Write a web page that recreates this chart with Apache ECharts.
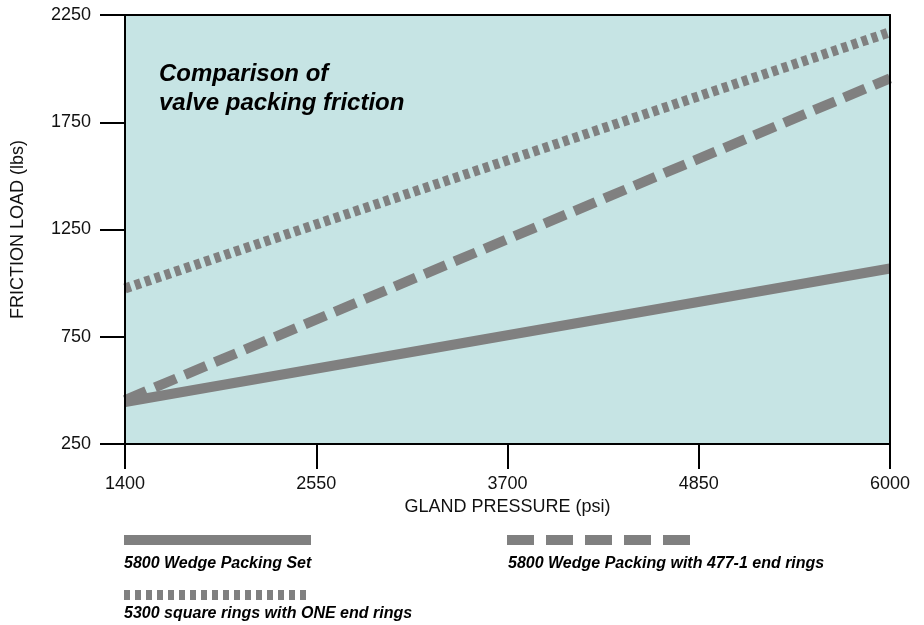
<!DOCTYPE html>
<html>
<head>
<meta charset="utf-8">
<script src="https://cdn.jsdelivr.net/npm/echarts@6/dist/echarts.min.js"></script>
<style>html,body{margin:0;padding:0;background:#fff;}#c{width:924px;height:625px;}</style>
</head>
<body>
<div id="c"></div>
<script>
// ---- data ----
const xTicks = [1400, 2550, 3700, 4850, 6000];
const yTicks = [250, 750, 1250, 1750, 2250];
const pressure = [1400, 6000];
const wedgeSet = [446, 1068];
const wedge477 = [455, 1955];
const squareRings = [975, 2170];
const seriesNames = ['5800 Wedge Packing Set', '5800 Wedge Packing with 477-1 end rings', '5300 square rings with ONE end rings'];
const titleLines = ['Comparison of', 'valve packing friction'];
const xName = 'GLAND PRESSURE (psi)';
const yName = 'FRICTION LOAD (lbs)';

const FONT = '"Liberation Sans", Arial, Helvetica, sans-serif';
const GREY = '#808080';
const pts = arr => pressure.map((p, i) => [p, arr[i]]);

const chart = echarts.init(document.getElementById('c'), null, {renderer: 'canvas'});
const axisCommon = {
  axisLine: {show: true, onZero: false, lineStyle: {color: '#000', width: 2}},
  splitLine: {show: false},
  z: 10
};
chart.setOption({
  animation: false,
  backgroundColor: '#fff',
  grid: {left: 125, right: 34, top: 15, bottom: 181, show: true, backgroundColor: '#c6e4e4', borderWidth: 0},
  xAxis: [
    Object.assign({}, axisCommon, {
      type: 'value', min: 1400, max: 6000, position: 'bottom',
      axisTick: {show: true, length: 25, lineStyle: {color: '#000', width: 2}, customValues: xTicks},
      axisLabel: {show: true, color: '#111', fontFamily: FONT, fontSize: 18, margin: 31, customValues: xTicks,
                  formatter: v => String(v)},
      name: xName, nameLocation: 'middle', nameGap: 54,
      nameTextStyle: {color: '#111', fontFamily: FONT, fontSize: 18}
    }),
    Object.assign({}, axisCommon, {
      type: 'value', min: 1400, max: 6000, position: 'top',
      axisTick: {show: false}, axisLabel: {show: false}
    })
  ],
  yAxis: [
    Object.assign({}, axisCommon, {
      type: 'value', min: 250, max: 2250, position: 'left',
      axisTick: {show: true, length: 25, lineStyle: {color: '#000', width: 2}, customValues: yTicks},
      axisLabel: {show: true, color: '#111', fontFamily: FONT, fontSize: 18, margin: 34, customValues: yTicks,
                  formatter: v => String(v)},
      name: yName, nameLocation: 'middle', nameGap: 98,
      nameTextStyle: {color: '#111', fontFamily: FONT, fontSize: 18}
    }),
    Object.assign({}, axisCommon, {
      type: 'value', min: 250, max: 2250, position: 'right',
      axisTick: {show: false}, axisLabel: {show: false}
    })
  ],
  series: [
    {name: seriesNames[0], type: 'line', data: pts(wedgeSet), showSymbol: false, symbol: 'none',
     lineStyle: {color: GREY, width: 10, cap: 'butt'}, z: 3},
    {name: seriesNames[1], type: 'line', data: pts(wedge477), showSymbol: false, symbol: 'none',
     lineStyle: {color: GREY, width: 10, cap: 'butt', type: [23, 9.5]}, z: 3},
    {name: seriesNames[2], type: 'line', data: pts(squareRings), showSymbol: false, symbol: 'none',
     lineStyle: {color: GREY, width: 10, cap: 'butt', type: [6, 4.5]}, z: 3}
  ],
  graphic: [
    {type: 'text', left: 159, top: 60, z: 20,
     style: {text: titleLines.join('\n'), fill: '#000', font: 'italic bold 24px ' + FONT, lineHeight: 29}},
    // legend 1
    {type: 'line', shape: {x1: 124, y1: 540, x2: 311, y2: 540}, style: {stroke: GREY, lineWidth: 10, lineCap: 'butt'}},
    {type: 'text', left: 124, top: 556, style: {text: seriesNames[0], fill: '#000', font: 'italic bold 16px ' + FONT}},
    // legend 2
    {type: 'line', shape: {x1: 507, y1: 540, x2: 694, y2: 540}, style: {stroke: GREY, lineWidth: 10, lineCap: 'butt', lineDash: [27, 12]}},
    {type: 'text', left: 508, top: 556, style: {text: seriesNames[1], fill: '#000', font: 'italic bold 16px ' + FONT}},
    // legend 3
    {type: 'line', shape: {x1: 124, y1: 595, x2: 311, y2: 595}, style: {stroke: GREY, lineWidth: 10, lineCap: 'butt', lineDash: [6, 5]}},
    {type: 'text', left: 124, top: 606, style: {text: seriesNames[2], fill: '#000', font: 'italic bold 16px ' + FONT}}
  ]
});
</script>
</body>
</html>
